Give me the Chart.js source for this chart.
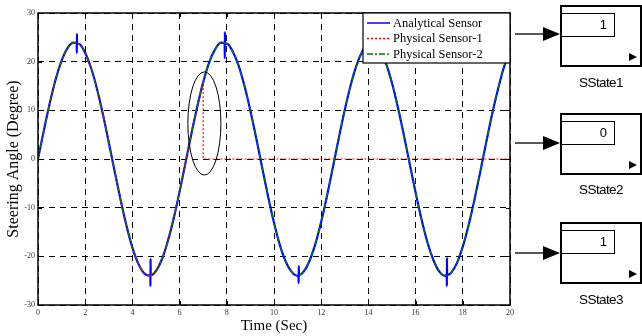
<!DOCTYPE html>
<html>
<head>
<meta charset="utf-8">
<script src="https://cdn.jsdelivr.net/npm/chart.js@4.4.1/dist/chart.umd.min.js"></script>
<style>
  body { margin: 0; background: #fff; }
  #wrap { position: relative; width: 642px; height: 336px; overflow: hidden; }
  #wrap canvas { position: absolute; left: 0; top: 0; }
  .blk { position: absolute; left: 560px; width: 82px; height: 62px; box-sizing: border-box;
         border: 2px solid #000; background: #fff; }
  .blk .val { position: absolute; left: -2px; top: 6px; width: 55px; height: 24px; box-sizing: border-box;
              border: 1px solid #000; font: 13px "Liberation Sans", Arial, sans-serif;
              text-align: right; padding-right: 7px; line-height: 22px; }
  .blk .out { position: absolute; left: 67px; top: 46px; width: 0; height: 0;
              border-left: 8px solid #000; border-top: 4px solid transparent; border-bottom: 4px solid transparent; }
  .lbl { position: absolute; left: 560px; width: 82px; text-align: center;
         font: 13.5px "Liberation Sans", Arial, sans-serif; line-height: 16px; letter-spacing: -0.6px; }
  svg { position: absolute; left: 0; top: 0; }
</style>
</head>
<body>
<div id="wrap">
  <canvas id="chart" width="642" height="336"></canvas>
  <svg width="642" height="336">
    <line x1="515" y1="34" x2="546" y2="34" stroke="#222" stroke-width="1.5"/>
    <polygon points="543,27 560,34 543,41" fill="#000"/>
    <line x1="515" y1="143" x2="546" y2="143" stroke="#222" stroke-width="1.5"/>
    <polygon points="543,136 560,143 543,150" fill="#000"/>
    <line x1="515" y1="253" x2="546" y2="253" stroke="#222" stroke-width="1.5"/>
    <polygon points="543,246 560,253 543,260" fill="#000"/>
  </svg>
  <div class="blk" style="top:5px"><div class="val">1</div><div class="out"></div></div>
  <div class="lbl" style="top:75px">SState1</div>
  <div class="blk" style="top:113px"><div class="val">0</div><div class="out"></div></div>
  <div class="lbl" style="top:182px">SState2</div>
  <div class="blk" style="top:222px"><div class="val">1</div><div class="out"></div></div>
  <div class="lbl" style="top:292px">SState3</div>
</div>
<script>
// Steering angle, every 0.25 s
const timeSec = [
  0, 0.25, 0.5, 0.75, 1, 1.25, 1.5, 1.75, 2, 2.25, 2.5, 2.75, 3, 3.25, 3.5, 3.75,
  4, 4.25, 4.5, 4.75, 5, 5.25, 5.5, 5.75, 6, 6.25, 6.5, 6.75, 7, 7.25, 7.5, 7.75,
  8, 8.25, 8.5, 8.75, 9, 9.25, 9.5, 9.75, 10, 10.25, 10.5, 10.75, 11, 11.25, 11.5, 11.75,
  12, 12.25, 12.5, 12.75, 13, 13.25, 13.5, 13.75, 14, 14.25, 14.5, 14.75, 15, 15.25, 15.5, 15.75,
  16, 16.25, 16.5, 16.75, 17, 17.25, 17.5, 17.75, 18, 18.25, 18.5, 18.75, 19, 19.25, 19.5, 19.75, 20
];
const angleDeg = [
  0, 5.9, 11.5, 16.4, 20.2, 22.8, 23.9, 23.6, 21.8, 18.7, 14.4, 9.2, 3.4, -2.6, -8.4, -13.7,
  -18.2, -21.5, -23.5, -24.0, -23.0, -20.6, -16.9, -12.2, -6.7, -0.8, 5.2, 10.8, 15.8, 19.8, 22.5, 23.9,
  23.7, 22.1, 19.2, 15.0, 9.9, 4.2, -1.8, -7.7, -13.1, -17.7, -21.1, -23.2, -24.0, -23.2, -21.0, -17.5,
  -12.9, -7.5, -1.6, 4.4, 10.1, 15.2, 19.3, 22.2, 23.8, 23.9, 22.4, 19.6, 15.6, 10.6, 5.0, -1.0,
  -6.9, -12.4, -17.1, -20.7, -23.1, -24.0, -23.4, -21.4, -18.0, -13.5, -8.2, -2.4, 3.6, 9.4, 14.5, 19.0, 21.9
];

// glitches on the analytical sensor near the peaks
const spikeTime = [1.65, 4.77, 7.92, 11.05, 17.33];
const spikeBase = [23.8, -23.9, 23.8, -23.9, -23.8];
const spikeLow  = [21.8, -26.1, 20.7, -25.5, -26.1];
const spikeHigh = [25.7, -20.5, 26.1, -22.0, -20.3];

// physical sensor-1 fails here and reads zero afterwards
const sensor1FailTime = 7.0;
const sensor1FailValue = 0;

// ellipse marking the failure (data units)
const markCenter = [7.05, 7.3];
const markRadius = [0.7, 10.6];

const xTicks = [0, 20, 2];
const yTicks = [-30, 30, 10];

const seriesNames = ['Analytical Sensor', 'Physical Sensor-1', 'Physical Sensor-2'];

// build point lists
let curve = timeSec.map((t, i) => ({ x: t, y: angleDeg[i] }));

let analytical = curve.slice();
spikeTime.forEach((t, i) => {
    analytical.push({ x: t - 0.01, y: spikeBase[i] });
    analytical.push({ x: t - 0.005, y: spikeLow[i] });
    analytical.push({ x: t, y: spikeHigh[i] });
    analytical.push({ x: t + 0.005, y: spikeBase[i] });
});
analytical.sort((a, b) => a.x - b.x);

let sensor1 = curve.filter(p => p.x <= sensor1FailTime);
sensor1.push({ x: sensor1FailTime, y: sensor1FailValue });
sensor1.push({ x: timeSec[timeSec.length - 1], y: sensor1FailValue });

let sensor2 = curve.slice();

const serif = 'Liberation Serif, Times New Roman, serif';

// frame, inner ticks, ellipse and boxed legend
const extras = {
    id: 'extras',
    afterDatasetsDraw(chart) {
        const ctx = chart.ctx;
        const a = chart.chartArea;
        const xs = chart.scales.x, ys = chart.scales.y;
        ctx.save();

        // ellipse
        ctx.strokeStyle = '#000';
        ctx.lineWidth = 1;
        ctx.beginPath();
        const cx = xs.getPixelForValue(markCenter[0]);
        const cy = ys.getPixelForValue(markCenter[1]);
        const rx = xs.getPixelForValue(markCenter[0] + markRadius[0]) - cx;
        const ry = cy - ys.getPixelForValue(markCenter[1] + markRadius[1]);
        ctx.ellipse(cx, cy, rx, ry, 0, 0, Math.PI * 2);
        ctx.stroke();

        // inner ticks
        ctx.lineWidth = 1;
        xs.ticks.forEach(tk => {
            const px = Math.round(xs.getPixelForValue(tk.value)) + 0.5;
            ctx.beginPath();
            ctx.moveTo(px, a.bottom); ctx.lineTo(px, a.bottom - 4);
            ctx.moveTo(px, a.top); ctx.lineTo(px, a.top + 4);
            ctx.stroke();
        });
        ys.ticks.forEach(tk => {
            const py = Math.round(ys.getPixelForValue(tk.value)) + 0.5;
            ctx.beginPath();
            ctx.moveTo(a.left, py); ctx.lineTo(a.left + 4, py);
            ctx.moveTo(a.right, py); ctx.lineTo(a.right - 4, py);
            ctx.stroke();
        });

        // frame
        ctx.lineWidth = 1.5;
        ctx.strokeRect(a.left, a.top, a.right - a.left, a.bottom - a.top);

        // legend box
        const lw = 147, lh = 50;
        const lx = a.right - lw, ly = a.top;
        ctx.fillStyle = '#fff';
        ctx.fillRect(lx, ly, lw, lh);
        ctx.lineWidth = 1.2;
        ctx.strokeRect(lx, ly, lw, lh);
        ctx.font = '12.5px ' + serif;
        ctx.textBaseline = 'middle';
        chart.data.datasets.forEach((ds, i) => {
            const ry2 = ly + 10 + i * 15.5;
            ctx.strokeStyle = ds.borderColor;
            ctx.lineWidth = 1.5;
            ctx.setLineDash(ds.borderDash || []);
            ctx.beginPath();
            ctx.moveTo(lx + 4, ry2); ctx.lineTo(lx + 27, ry2);
            ctx.stroke();
            ctx.setLineDash([]);
            ctx.fillStyle = '#000';
            ctx.fillText(ds.label, lx + 30, ry2 + 0.5);
        });
        ctx.restore();
    }
};

const tickFont = { family: serif, size: 8 };

new Chart(document.getElementById('chart'), {
    type: 'line',
    data: {
        datasets: [
            { label: seriesNames[0], data: analytical, borderColor: '#0000ff', borderWidth: 2.2,
              cubicInterpolationMode: 'monotone', order: 3 },
            { label: seriesNames[1], data: sensor1, borderColor: '#ff0000', borderWidth: 1.2,
              borderDash: [2, 2], tension: 0, order: 2 },
            { label: seriesNames[2], data: sensor2, borderColor: '#008000', borderWidth: 1.2,
              borderDash: [6, 2, 2, 2], cubicInterpolationMode: 'monotone', order: 1 }
        ]
    },
    options: {
        responsive: false,
        animation: false,
        layout: { padding: { left: 0, right: 132, top: 13, bottom: 0 } },
        elements: { point: { radius: 0 } },
        plugins: { legend: { display: false }, tooltip: { enabled: false } },
        scales: {
            x: {
                type: 'linear', min: xTicks[0], max: xTicks[1],
                ticks: { stepSize: xTicks[2], font: tickFont, color: '#333', padding: 3, maxRotation: 0 },
                grid: { color: '#000', lineWidth: 1, drawTicks: false },
                border: { display: false, dash: [6, 5] },
                title: { display: true, text: 'Time (Sec)', color: '#000',
                         font: { family: serif, size: 15 }, padding: { top: 0, bottom: 1 } },
                afterFit(s) { s.height = 31; }
            },
            y: {
                min: yTicks[0], max: yTicks[1],
                ticks: { stepSize: yTicks[2], font: tickFont, color: '#333', padding: 3 },
                grid: { color: '#000', lineWidth: 1, drawTicks: false },
                border: { display: false, dash: [6, 5] },
                title: { display: true, text: 'Steering Angle (Degree)', color: '#000',
                         font: { family: serif, size: 16 }, padding: { top: 4 } },
                afterFit(s) { s.width = 38; }
            }
        }
    },
    plugins: [extras]
});
</script>
</body>
</html>
